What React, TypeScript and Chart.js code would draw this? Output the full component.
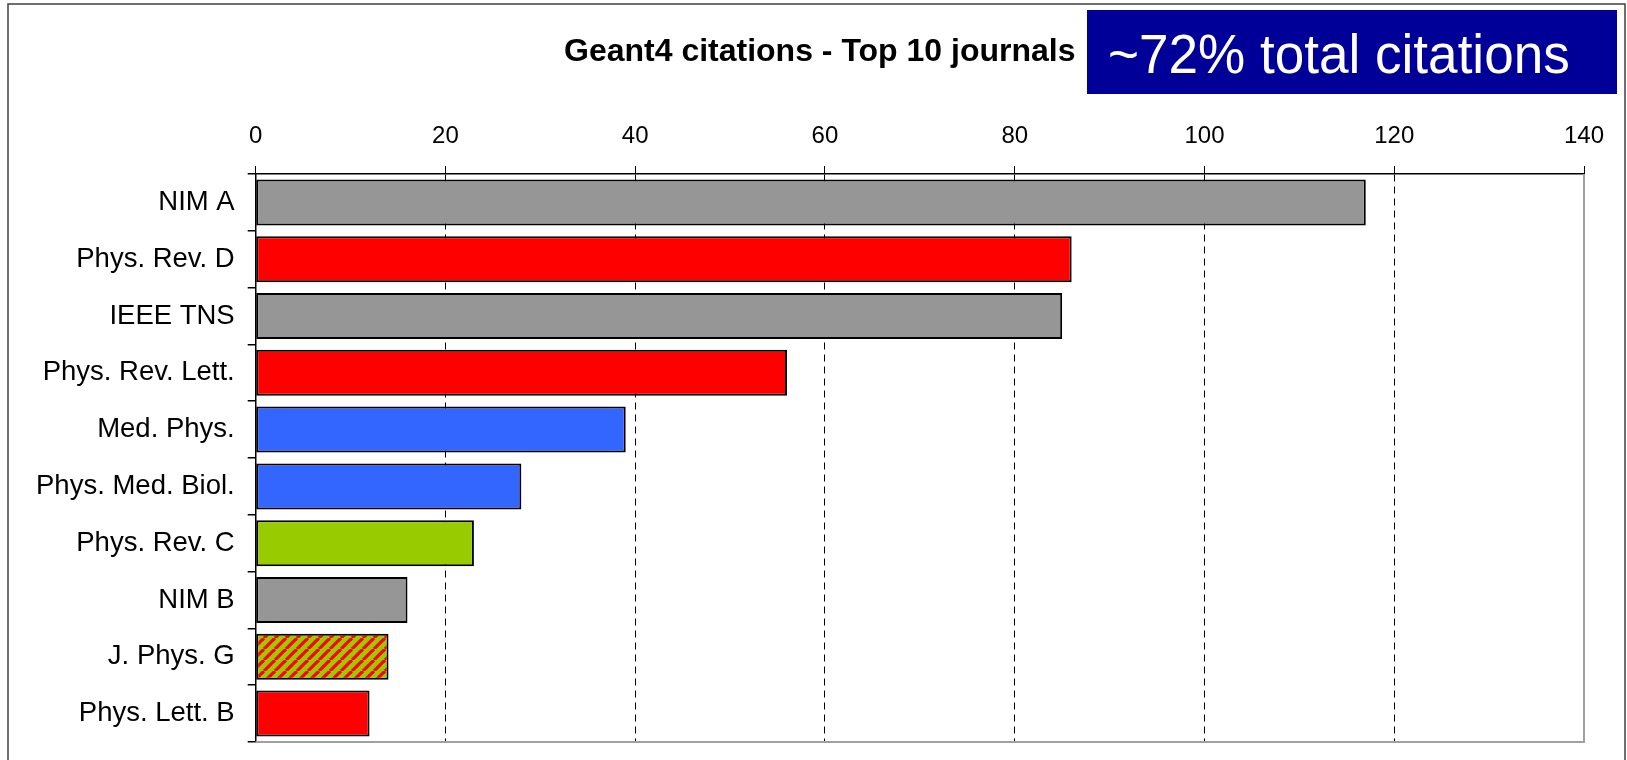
import React, { useEffect, useRef } from "react";
import { Chart, registerables } from "chart.js";

Chart.register(...registerables);

const journals = [
  "NIM A",
  "Phys. Rev. D",
  "IEEE TNS",
  "Phys. Rev. Lett.",
  "Med. Phys.",
  "Phys. Med. Biol.",
  "Phys. Rev. C",
  "NIM B",
  "J. Phys. G",
  "Phys. Lett. B",
];
const citations = [117, 86, 85, 56, 39, 28, 23, 16, 14, 12];
// field of each journal: "inst" gray, "hep" red, "med" blue, "nuc" green, "mix" hatched
const fields = ["inst", "hep", "inst", "hep", "med", "med", "nuc", "inst", "mix", "hep"];
const xMin = 0;
const xMax = 140;
const xStep = 20;
const chartTitle = "Geant4 citations - Top 10 journals";
const boxText = "~72% total citations";

const FONT = "'Liberation Sans', Arial, Helvetica, sans-serif";

function makeHatch(): CanvasPattern | string {
  const p = 11;
  const c = document.createElement("canvas");
  c.width = p;
  c.height = p;
  const g = c.getContext("2d");
  if (!g) return "#99CC00";
  g.fillStyle = "#99CC00";
  g.fillRect(0, 0, p, p);
  g.strokeStyle = "#FF0000";
  g.lineWidth = 3.3;
  for (const k of [-p, 0, p]) {
    g.beginPath();
    g.moveTo(k, p);
    g.lineTo(k + p, 0);
    g.stroke();
  }
  const pat = g.createPattern(c, "repeat");
  return pat || "#99CC00";
}

export default function App() {
  const ref = useRef<HTMLCanvasElement | null>(null);

  useEffect(() => {
    const canvas = ref.current;
    if (!canvas) return;
    const hatch = makeHatch();
    const colorOf: Record<string, any> = {
      inst: "#969696",
      hep: "#FF0000",
      med: "#3366FF",
      nuc: "#99CC00",
      mix: hatch,
    };

    const decor = {
      id: "decor",
      beforeDraw(chart: any) {
        const ctx = chart.ctx;
        ctx.save();
        ctx.fillStyle = "#ffffff";
        ctx.fillRect(0, 0, chart.width, chart.height);
        ctx.restore();
      },
      afterDatasetsDraw(chart: any) {
        const { ctx, chartArea } = chart;
        ctx.save();
        ctx.strokeStyle = "#a0a0a0";
        ctx.lineWidth = 2;
        ctx.beginPath();
        ctx.moveTo(chartArea.left, chartArea.bottom);
        ctx.lineTo(chartArea.right, chartArea.bottom);
        ctx.lineTo(chartArea.right, chartArea.top);
        ctx.stroke();
        ctx.restore();
      },
      afterDraw(chart: any) {
        const ctx = chart.ctx;
        ctx.save();
        // outer frame
        ctx.strokeStyle = "#404040";
        ctx.lineWidth = 1.5;
        ctx.strokeRect(8, 4, 1617, 800);
        // title
        ctx.fillStyle = "#000";
        ctx.font = `bold 32px ${FONT}`;
        ctx.textBaseline = "alphabetic";
        ctx.textAlign = "left";
        ctx.fillText(chartTitle, 564, 61);
        // blue box
        ctx.fillStyle = "#000099";
        ctx.fillRect(1087, 10, 530, 84);
        ctx.fillStyle = "#ffffff";
        ctx.font = `55px ${FONT}`;
        ctx.save();
        ctx.translate(1108, 73);
        ctx.scale(0.965, 1);
        ctx.fillText(boxText, 0, 0);
        ctx.restore();
        ctx.restore();
      },
    };

    const chart = new Chart(canvas, {
      type: "bar",
      data: {
        labels: journals,
        datasets: [
          {
            data: citations,
            backgroundColor: fields.map((f) => colorOf[f]),
            borderColor: "#000000",
            borderWidth: 2,
            borderSkipped: false,
            barPercentage: 0.81,
            categoryPercentage: 1,
          },
        ],
      },
      options: {
        indexAxis: "y",
        animation: false,
        responsive: false,
        maintainAspectRatio: false,
        layout: { padding: { left: 8, top: 100, right: 43, bottom: 18 } },
        plugins: {
          legend: { display: false },
          title: { display: false },
          tooltip: { enabled: false },
        },
        scales: {
          x: {
            position: "top",
            min: xMin,
            max: xMax,
            ticks: {
              stepSize: xStep,
              color: "#000",
              font: { family: FONT, size: 24 },
              padding: 15,
              maxRotation: 0,
            },
            grid: {
              color: (c: any) =>
                c.tick && (c.tick.value === xMin || c.tick.value === xMax)
                  ? "rgba(0,0,0,0)"
                  : "#000",
              lineWidth: 1,
              tickLength: 8,
              tickColor: "#000",
              tickBorderDash: [],
              drawOnChartArea: true,
            },
            border: { display: true, color: "#000", width: 1.5, dash: [7, 5] },
            afterFit: (s: any) => {
              s.height = 74;
              s.paddingLeft = 0;
              s.paddingRight = 0;
            },
          },
          y: {
            ticks: {
              color: "#000",
              font: { family: FONT, size: 27.5 },
              padding: 13,
            },
            grid: {
              offset: true,
              drawOnChartArea: false,
              tickLength: 8,
              tickColor: "#000",
              lineWidth: 1.5,
            },
            border: { display: true, color: "#000", width: 1.5 },
            afterFit: (s: any) => {
              s.width = 247.7;
              s.paddingTop = 0;
              s.paddingBottom = 0;
            },
          },
        },
      },
      plugins: [decor],
    } as any);

    return () => chart.destroy();
  }, []);

  return (
    <div style={{ position: "absolute", left: 0, top: 0, width: 1627, height: 760 }}>
      <canvas ref={ref} width={1627} height={760} />
    </div>
  );
}
